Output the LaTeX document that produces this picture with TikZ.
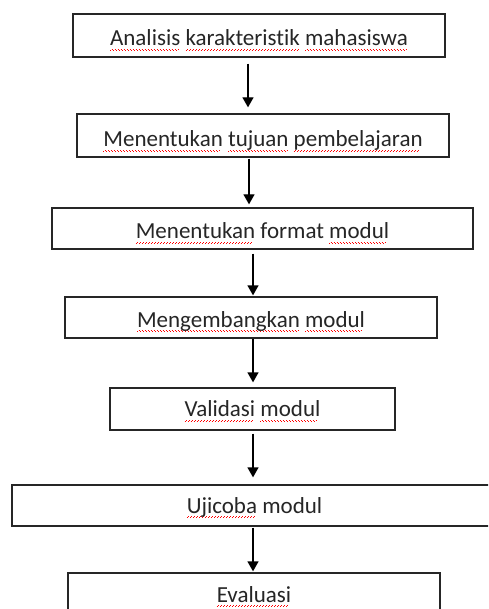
\documentclass[tikz,border=0pt]{standalone}
\usepackage{fontspec}
\setmainfont[Ligatures={NoCommon}]{Carlito}
\usetikzlibrary{arrows.meta}
\newsavebox\sqgbox
\newcommand\sqg[1]{\sbox\sqgbox{#1}\rlap{\raisebox{-5pt}{\textcolor{red}{\leaders\hbox to 3pt{\rule[0pt]{1pt}{0.8pt}\hskip0.5pt\rule[0.8pt]{1pt}{0.8pt}\hss}\hskip\wd\sqgbox}}}\usebox\sqgbox}
\tikzset{
  box/.style={draw=black!85, line width=1.3pt, rectangle, inner sep=0pt, fill=white,
              font=\fontsize{23}{27}\selectfont, text=black!85, text height=15pt, text depth=0pt},
  arr/.style={draw=black, line width=1.3pt, -{Triangle[length=10pt,width=11pt]}}
}
\begin{document}
\begin{tikzpicture}[x=1pt,y=-1pt]
\useasboundingbox (0,0) rectangle (488,609);
\clip (0,0) rectangle (488,609);
\node[box, minimum width=372pt, minimum height=43pt, text height=21pt] (b1) at (259,35.5)
  {\sqg{Analisis} \sqg{karakteristik} \sqg{mahasiswa}\hspace{10pt}};
\node[box, minimum width=372pt, minimum height=43pt, text height=22pt] (b2) at (263,135.5)
  {\sqg{Menentukan} \sqg{tujuan} \sqg{pembelajaran}\hspace{12pt}};
\node[box, minimum width=421pt, minimum height=41pt, text height=20pt] (b3) at (262.5,228.5)
  {\sqg{Menentukan} format \sqg{modul}};
\node[box, minimum width=372pt, minimum height=41pt, text height=19pt] (b4) at (251,317.5)
  {\sqg{Mengembangkan} \sqg{modul}};
\node[box, minimum width=285pt, minimum height=42pt] (b5) at (252.5,409)
  {\sqg{Validasi} \sqg{modul}};
\node[box, minimum width=485pt, minimum height=41pt] (b6) at (254.5,505.5)
  {\sqg{Ujicoba} modul};
\node[box, minimum width=372pt, minimum height=43pt] (b7) at (254,594.5)
  {\sqg{Evaluasi}};
\coordinate (x1) at (248,0);
\coordinate (x2) at (249,0);
\coordinate (x3) at (253,0);
\draw[arr] ([yshift=-6pt]b1.south -| x1) -- ([yshift=6pt]b2.north -| x1);
\draw[arr] ([yshift=-1pt]b2.south -| x2) -- ([yshift=3pt]b3.north -| x2);
\draw[arr] ([yshift=-4pt]b3.south -| x3) -- ([yshift=1pt]b4.north -| x3);
\draw[arr] (b4.south -| x3) -- ([yshift=5pt]b5.north -| x3);
\draw[arr] ([yshift=-3pt]b5.south -| x3) -- ([yshift=7pt]b6.north -| x3);
\draw[arr] ([yshift=-1pt]b6.south -| x3) -- ([yshift=1pt]b7.north -| x3);
\end{tikzpicture}
\end{document}
